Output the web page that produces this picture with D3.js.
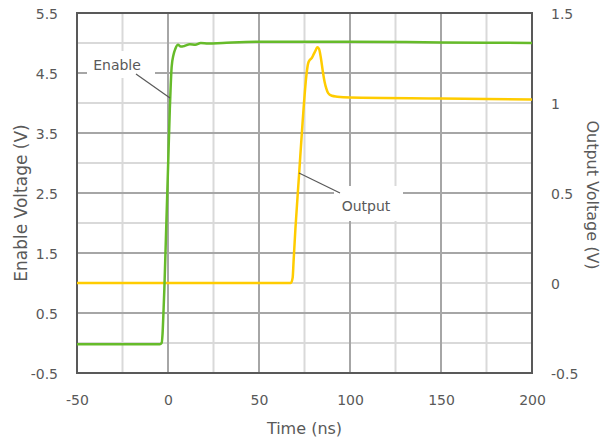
<!DOCTYPE html>
<html><head><meta charset="utf-8">
<script src="https://cdn.jsdelivr.net/npm/d3@7"></script>
<style>html,body{margin:0;padding:0;background:#fff;} svg{display:block;}</style>
</head><body>
<svg id="chart" width="603" height="445"></svg>
<script>
// ---- data ----
const enableTime = [-50,-20,-10,-4.5,-3.5,-3,-2.5,-2,-1,0,1,1.5,2,3,4,5.5,7,9,12,15,18,22,30,50,100,150,200];
const enableVolt = [-0.02,-0.02,-0.02,-0.02,0.0,0.15,0.5,0.9,1.9,2.9,3.9,4.3,4.6,4.8,4.9,4.97,4.94,4.95,4.98,4.97,5.0,4.99,5.0,5.02,5.02,5.01,5.0];
const outputTime = [-50,0,50,67.5,68.5,69,70,72,74,76,77,78,79,80,81,82,83,84,85,86,87,88,90,93,100,150,200];
const outputVolt = [0,0,0,0,0.03,0.12,0.3,0.6,0.9,1.15,1.22,1.24,1.25,1.27,1.29,1.31,1.30,1.25,1.18,1.12,1.08,1.055,1.04,1.035,1.03,1.025,1.02];
const xTicks = [-50,0,50,100,150,200];
const leftTicks = [-0.5,0.5,1.5,2.5,3.5,4.5,5.5];
const rightTicks = [-0.5,0,0.5,1,1.5];
const xMinor = [-25,25,75,125,175];
const leftMinor = [0,1,2,3,4,5];

const svg = d3.select("#chart");
const L = 77, R = 532, T = 13, B = 373;
const x = d3.scaleLinear().domain([-50,200]).range([L,R]);
const yL = d3.scaleLinear().domain([-0.5,5.5]).range([B,T]);
const yR = d3.scaleLinear().domain([-0.5,1.5]).range([B,T]);
const font = "DejaVu Sans, Verdana, sans-serif";
const txt = "#595959";
const fmt = d => String(d);

// grid
const g = svg.append("g");
g.selectAll(".hmin").data(leftMinor).join("line")
  .attr("x1",L).attr("x2",R).attr("y1",d=>yL(d)).attr("y2",d=>yL(d))
  .attr("stroke","#d9d9d9").attr("stroke-width",2);
g.selectAll(".vmin").data(xMinor).join("line")
  .attr("y1",T).attr("y2",B).attr("x1",d=>x(d)).attr("x2",d=>x(d))
  .attr("stroke","#d9d9d9").attr("stroke-width",2);
g.selectAll(".hmaj").data(leftTicks.slice(1,-1)).join("line")
  .attr("x1",L).attr("x2",R).attr("y1",d=>yL(d)).attr("y2",d=>yL(d))
  .attr("stroke","#a6a6a6").attr("stroke-width",2);
g.selectAll(".vmaj").data(xTicks.slice(1,-1)).join("line")
  .attr("y1",T).attr("y2",B).attr("x1",d=>x(d)).attr("x2",d=>x(d))
  .attr("stroke","#a6a6a6").attr("stroke-width",2);

// label boxes (white backgrounds)
svg.append("rect").attr("x",87).attr("y",51).attr("width",68).attr("height",27).attr("fill","#fff");
svg.append("rect").attr("x",334).attr("y",186).attr("width",69).attr("height",35).attr("fill","#fff");

// frame
svg.append("rect").attr("x",L).attr("y",T).attr("width",R-L).attr("height",B-T)
  .attr("fill","none").attr("stroke","#595959").attr("stroke-width",2);

// series
const lineE = d3.line().x((d,i)=>x(enableTime[i])).y(d=>yL(d)).curve(d3.curveMonotoneX);
const lineO = d3.line().x((d,i)=>x(outputTime[i])).y(d=>yR(d)).curve(d3.curveMonotoneX);
svg.append("path").attr("d",lineO(outputVolt)).attr("fill","none")
  .attr("stroke","#ffcc00").attr("stroke-width",2.5).attr("stroke-linejoin","round");
svg.append("path").attr("d",lineE(enableVolt)).attr("fill","none")
  .attr("stroke","#66bb2a").attr("stroke-width",2.5).attr("stroke-linejoin","round");

// annotations
svg.append("line").attr("x1",136).attr("y1",74).attr("x2",170).attr("y2",98)
  .attr("stroke","#595959").attr("stroke-width",1.2);
svg.append("text").attr("x",117).attr("y",70).attr("text-anchor","middle")
  .attr("font-family",font).attr("font-size",14).attr("fill",txt).text("Enable");
svg.append("line").attr("x1",299).attr("y1",173).attr("x2",340).attr("y2",193)
  .attr("stroke","#595959").attr("stroke-width",1.2);
svg.append("text").attr("x",366).attr("y",211).attr("text-anchor","middle")
  .attr("font-family",font).attr("font-size",14).attr("fill",txt).text("Output");

// axes
const axL = svg.append("g").attr("transform",`translate(${L-16},1)`)
  .call(d3.axisLeft(yL).tickValues(leftTicks).tickSize(0).tickFormat(fmt));
const axR = svg.append("g").attr("transform",`translate(${R+16},1)`)
  .call(d3.axisRight(yR).tickValues(rightTicks).tickSize(0).tickFormat(fmt));
const axB = svg.append("g").attr("transform",`translate(0,${B+19})`)
  .call(d3.axisBottom(x).tickValues(xTicks).tickSize(0).tickFormat(fmt));
[axL,axR,axB].forEach(a=>{
  a.select(".domain").remove();
  a.selectAll("text").attr("font-family",font).attr("font-size",14).attr("fill",txt);
});

// axis titles
svg.append("text").attr("x",(L+R)/2).attr("y",434).attr("text-anchor","middle")
  .attr("font-family",font).attr("font-size",16).attr("fill",txt).text("Time (ns)");
svg.append("text").attr("transform",`translate(27,203) rotate(-90)`).attr("text-anchor","middle")
  .attr("font-family",font).attr("font-size",17).attr("fill",txt).text("Enable Voltage (V)");
svg.append("text").attr("transform",`translate(587,195) rotate(90)`).attr("text-anchor","middle")
  .attr("font-family",font).attr("font-size",16).attr("fill",txt).text("Output Voltage (V)");
</script>
</body></html>
